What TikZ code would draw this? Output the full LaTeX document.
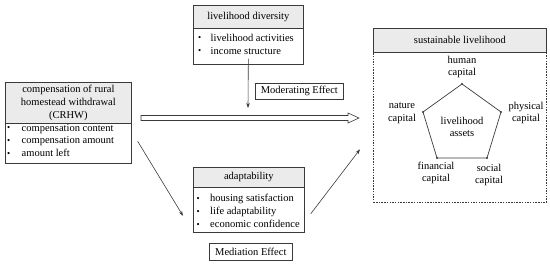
\documentclass[tikz,border=0pt]{standalone}
\usepackage{fontspec}
\setmainfont{Liberation Serif}
\usetikzlibrary{arrows.meta,calc}
\definecolor{ln}{HTML}{3A3A3A}
\definecolor{hd}{HTML}{EBEBEB}
\newcommand{\bl}[2][12.5pt]{\makebox[#1][l]{\raisebox{0.5pt}{\scalebox{0.85}{\textbullet}}}#2}
\tikzset{
  hdr/.style={draw=ln, fill=hd, line width=0.7pt, inner sep=0pt, anchor=north west, align=center, font=\fontsize{10.5}{12.7}\selectfont},
  bodybox/.style={draw=ln, fill=white, line width=0.7pt, inner sep=0pt, anchor=north west},
  lst/.style={inner sep=0pt, anchor=north west, align=left, font=\fontsize{10.5}{12.8}\selectfont},
  lbl/.style={inner sep=0pt, align=center, font=\fontsize{10.5}{12.5}\selectfont},
  effbox/.style={draw=ln, line width=0.7pt, inner sep=0pt, anchor=north west, font=\fontsize{10.5}{12}\selectfont},
  arr/.style={draw=ln, line width=0.6pt, -{Stealth[length=5pt,width=3.5pt]}},
}
\begin{document}
\begin{tikzpicture}[x=1pt,y=-1pt]
\useasboundingbox (0,0) rectangle (550,264);

% livelihood diversity
\node[hdr, minimum width=110pt, minimum height=23pt] (ldh) at (193,5) {livelihood diversity};
\node[bodybox, minimum width=110pt, minimum height=36pt] (ldb) at (193,28) {};
\node[lst] (ldl) at (198,34) {\bl{livelihood activities}\\\bl{income structure}};

% moderating effect
\node[effbox, minimum width=88pt, minimum height=16pt] (mod) at (255,83) {Moderating Effect};

% CRHW
\node[hdr, minimum width=126pt, minimum height=41pt] (crh) at (5,82) {compensation of rural\\homestead withdrawal\\(CRHW)};
\node[bodybox, minimum width=126pt, minimum height=40pt] (crb) at (5,123) {};
\node[lst] (crl) at (7,124) {\bl[14.5pt]{compensation content}\\\bl[14.5pt]{compensation amount}\\\bl[14.5pt]{amount left}};

% adaptability
\node[hdr, minimum width=111pt, minimum height=20pt] (adh) at (193,167) {adaptability};
\node[bodybox, minimum width=111pt, minimum height=45pt] (adb) at (193,187) {};
\node[lst, font=\fontsize{10.5}{13}\selectfont] (adl) at (196.5,194) {\bl[13.5pt]{housing satisfaction}\\\bl[13.5pt]{life adaptability}\\\bl[13.5pt]{economic confidence}};

% mediation effect
\node[effbox, minimum width=83pt, minimum height=17pt] (med) at (209,243) {Mediation Effect};

% sustainable livelihood
\node[hdr, minimum width=173pt, minimum height=24pt] (slh) at (373,28) {sustainable livelihood};
\node[draw=ln, line width=0.7pt, dash pattern=on 1.5pt off 1.2pt, inner sep=0pt, anchor=north west, minimum width=173pt, minimum height=150pt] (slb) at (373,52) {};

% pentagon
\coordinate (p1) at (462,84);
\coordinate (p2) at (501,112);
\coordinate (p3) at (487,158);
\coordinate (p4) at (437,158);
\coordinate (p5) at (423,112);
\draw[ln, line width=0.7pt] (p1) -- (p2) -- (p3) -- (p4) -- (p5) -- cycle;
\foreach \i in {1,...,5}{\fill[ln] (p\i) circle (1.1pt);}
\node[lbl] (la) at (462,127) {livelihood\\assets};
\node[lbl] (hc) at (462,67) {human\\capital};
\node[lbl] (phc) at (526,113) {physical\\capital};
\node[lbl] (nc) at (402,113) {nature\\capital};
\node[lbl] (fc) at (436,173) {financial\\capital};
\node[lbl] (sc) at (489,175) {social\\capital};

% connectors
\coordinate (mend) at (248,108);
\draw[arr] ([yshift=6pt]ldb.south) -- (mend);
\draw[arr] ([xshift=6pt,yshift=2pt]crb.east) -- ([xshift=-10pt,yshift=-6pt]adb.west);
\draw[arr] ([xshift=6pt,yshift=-4pt]adb.east) -- ([xshift=-13pt,yshift=-22pt]slb.west);

% hollow arrow
\coordinate (ha1) at (141,118);
\coordinate (ha2) at (359,118);
\draw[ln, line width=0.6pt, fill=white] ($(ha1)+(0,-2.5)$) -- ($(ha2)+(-11,-2.5)$) -- ($(ha2)+(-11,-5)$) -- (ha2) -- ($(ha2)+(-11,5)$) -- ($(ha2)+(-11,2.5)$) -- ($(ha1)+(0,2.5)$) -- cycle;
\end{tikzpicture}
\end{document}
